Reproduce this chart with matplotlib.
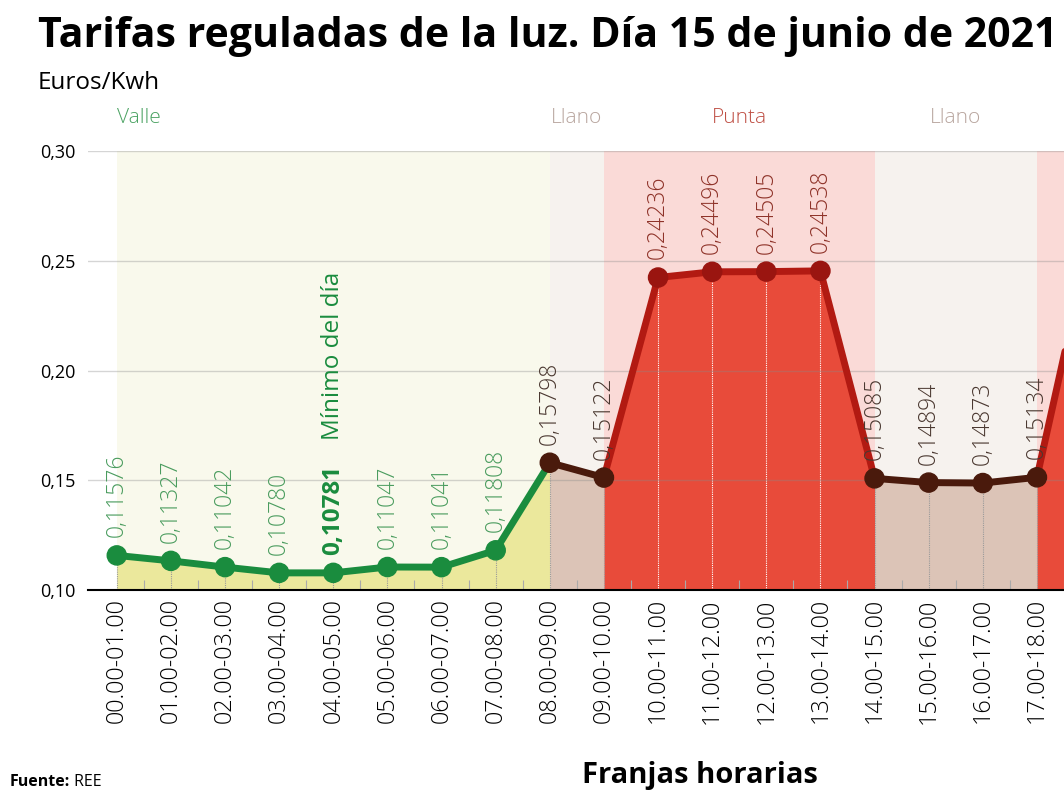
import numpy as np
import matplotlib.pyplot as plt

plt.rcParams['font.family'] = ['Open Sans', 'DejaVu Sans']

franjas = ['00.00-01.00', '01.00-02.00', '02.00-03.00', '03.00-04.00', '04.00-05.00',
           '05.00-06.00', '06.00-07.00', '07.00-08.00', '08.00-09.00', '09.00-10.00',
           '10.00-11.00', '11.00-12.00', '12.00-13.00', '13.00-14.00', '14.00-15.00',
           '15.00-16.00', '16.00-17.00', '17.00-18.00', '18.00-19.00']
precios = [0.11576, 0.11327, 0.11042, 0.10780, 0.10781, 0.11047, 0.11041, 0.11808,
           0.15798, 0.15122, 0.24236, 0.24496, 0.24505, 0.24538, 0.15085, 0.14894,
           0.14873, 0.15134, 0.262]
periodos = ['Valle'] * 8 + ['Llano'] * 2 + ['Punta'] * 4 + ['Llano'] * 4 + ['Punta']
# tramos de fondo: (periodo, desde, hasta) en indices de franja
tramos = [('Valle', 0, 8), ('Llano', 8, 9), ('Punta', 9, 14), ('Llano', 14, 17), ('Punta', 17, 18)]
minimo = 4  # el que sale marcado como minimo en el grafico

fondo = {'Valle': '#f9f9ec', 'Llano': '#f6f2ee', 'Punta': '#fadad7'}
relleno = {'Valle': '#ebe89c', 'Llano': '#dcc4b7', 'Punta': '#e84b3a'}
linea = {'Valle': '#1a8c3e', 'Llano': '#4a1a0c', 'Punta': '#b21a12'}
punto = {'Valle': '#1a8c3e', 'Llano': '#4a1a0c', 'Punta': '#9a1510'}
etiqueta = {'Valle': '#4a9c5e', 'Llano': '#4a3830', 'Punta': '#8e3228'}
cabecera = {'Valle': '#4aa262', 'Llano': '#b8a59e', 'Punta': '#bf4f44'}

x = np.arange(len(precios))
y = np.array(precios)

fig = plt.figure(figsize=(10.64, 8), dpi=100)
ax = fig.add_axes([88 / 1064, 210 / 800, 976 / 1064, 439 / 800])
ax.set_xlim(-0.532, 17.366)
ax.set_ylim(0.10, 0.30)

for nombre, a, b in tramos:
    ax.axvspan(a, b, color=fondo[nombre], lw=0, zorder=0)
    ax.fill_between(x[a:b + 1], 0.10, y[a:b + 1], color=relleno[nombre], lw=0, zorder=1)
    ax.plot(x[a:b + 1], y[a:b + 1], color=linea[nombre], lw=5, zorder=3,
            solid_capstyle='round')

# lineas punteadas bajo cada punto
col_v = ['white' if p == 'Punta' else '#9a9a9a' for p in periodos]
ax.vlines(x, 0.10, y, colors=col_v, linestyles=(0, (1, 1)), lw=0.8, zorder=2)

ax.scatter(x, y, s=190, c=[punto[p] for p in periodos], zorder=4)

for i, v in enumerate(precios):
    txt = ('%.5f' % v).replace('.', ',')
    bold = i == minimo
    t = ax.annotate(txt, xy=(i, v), xytext=(0, 13), textcoords='offset points',
                    rotation=90, ha='center', va='bottom',
                    fontsize=17.5 if bold else 16.5,
                    color='#1a8c3e' if bold else etiqueta[periodos[i]],
                    fontweight='bold' if bold else 'light', zorder=5)
    if bold:
        ax.annotate('Mínimo del día', xy=(0.5, 1), xycoords=t, xytext=(0, 18),
                    textcoords='offset points', rotation=90, ha='center', va='bottom',
                    fontsize=17.5, color='#1a8c3e')

# cabeceras de periodo
for nombre, a, b in tramos[1:4]:
    ax.text((a + b) / 2, 1.075, nombre, transform=ax.get_xaxis_transform(),
            ha='center', va='center', fontsize=15, color=cabecera[nombre], fontweight='light')
ax.text(0, 1.075, 'Valle', transform=ax.get_xaxis_transform(), ha='left', va='center',
        fontsize=15, color=cabecera['Valle'], fontweight='light')

ax.set_yticks([0.10, 0.15, 0.20, 0.25, 0.30])
ax.set_yticklabels(['0,10', '0,15', '0,20', '0,25', '0,30'], fontsize=13)
ax.set_xticks(x[:18])
ax.set_xticklabels(franjas[:18], rotation=90, fontsize=16.8, fontweight='light')
ax.set_xticks(np.arange(0.5, 18, 1), minor=True)
ax.tick_params(axis='both', which='major', length=0)
ax.tick_params(axis='y', pad=9)
ax.tick_params(axis='x', pad=6)
ax.tick_params(axis='x', which='minor', direction='in', length=7, color='#aaaaaa', width=0.8)

ax.set_axisbelow(False)
ax.yaxis.grid(True, color='#888888', alpha=0.35, lw=1)
for s in ['left', 'right', 'top']:
    ax.spines[s].set_visible(False)
ax.spines['bottom'].set_linewidth(1.5)
ax.spines['bottom'].set_zorder(6)

fig.text(38 / 1064, 0.954, 'Tarifas reguladas de la luz. Día 15 de junio de 2021',
         fontsize=29.6, fontweight='bold', va='center', ha='left')
fig.text(38 / 1064, 0.896, 'Euros/Kwh', fontsize=17.5, va='center', ha='left')
fig.text(582 / 1064, 0.031, 'Franjas horarias', fontsize=21, fontweight='bold', va='center')
f1 = fig.text(10 / 1064, 0.012, 'Fuente:', fontsize=11.5, fontweight='bold', va='bottom')
ax.annotate(' REE', xy=(1, 0), xycoords=f1, va='bottom', ha='left', fontsize=11.5,
            annotation_clip=False)
plt.savefig('out.png', dpi=100)
